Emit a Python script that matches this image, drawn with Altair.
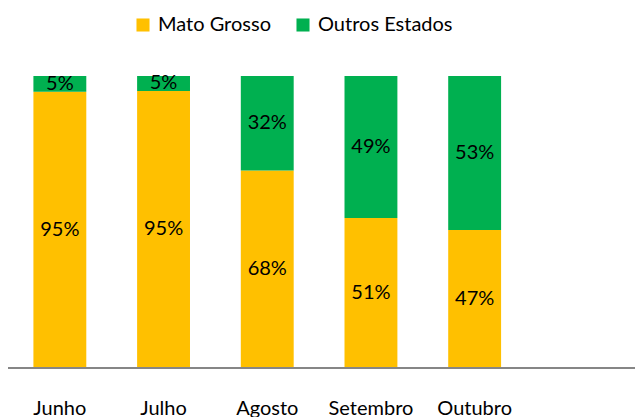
import altair as alt
import pandas as pd

months = ["Junho", "Julho", "Agosto", "Setembro", "Outubro"]
mato_grosso = [94.6, 94.9, 67.6, 51.4, 47.3]
outros = [5.4, 5.1, 32.4, 48.6, 52.7]
series = ["Mato Grosso", "Outros Estados"]
colors = ["#FFC000", "#00B050"]

rows = []
for m, a, b in zip(months, mato_grosso, outros):
    rows.append({"month": m, "serie": series[0], "value": a, "ord": 0})
    rows.append({"month": m, "serie": series[1], "value": b, "ord": 1})
df = pd.DataFrame(rows)

FONT = "Lato"
FS = 20

base = alt.Chart(df).transform_stack(
    stack="value", groupby=["month"], as_=["v0", "v1"], offset="normalize",
    sort=[alt.SortField("ord", order="ascending")]
).transform_calculate(mid="(datum.v0 + datum.v1) / 2", pct="datum.v1 - datum.v0")

xenc = alt.X("month:N", sort=months, title=None,
             scale=alt.Scale(range=[0, 518.5], paddingInner=0.49, paddingOuter=0.245),
             axis=alt.Axis(domain=False, ticks=False, labelAngle=0, labelFont=FONT,
                           labelFontSize=FS, labelColor="#000000", labelPadding=30))

bars = base.mark_bar().encode(
    x=xenc,
    y=alt.Y("v0:Q", scale=alt.Scale(domain=[0, 1]), axis=None),
    y2="v1:Q",
    color=alt.Color("serie:N", scale=alt.Scale(domain=series, range=colors),
                    legend=alt.Legend(title=None, orient="none", direction="horizontal",
                                      legendX=125, legendY=-61, padding=0, symbolType="square",
                                      symbolSize=170, symbolStrokeWidth=0,
                                      labelFont=FONT, labelFontSize=FS, labelColor="#000000",
                                      labelOffset=5, columnPadding=22)),
)

labels = base.mark_text(font=FONT, fontSize=FS, color="#000000").encode(
    x=alt.X("month:N", sort=months),
    y=alt.Y("mid:Q", scale=alt.Scale(domain=[0, 1])),
    text=alt.Text("pct:Q", format=".0%"),
)

axis_line = alt.Chart(pd.DataFrame({"k": [0]})).mark_rule(color="#868686", strokeWidth=2).encode(
    x=alt.value(0), x2=alt.value(627), y=alt.value(292)
)

chart = alt.layer(bars, labels, axis_line).properties(
    width=627, height=292,
    autosize=alt.AutoSizeParams(type="none"),
    padding={"top": 76, "left": 8, "right": 0, "bottom": 49},
).configure_view(stroke=None)

chart.save("out.html", embed_options={"renderer": "svg", "actions": False})
